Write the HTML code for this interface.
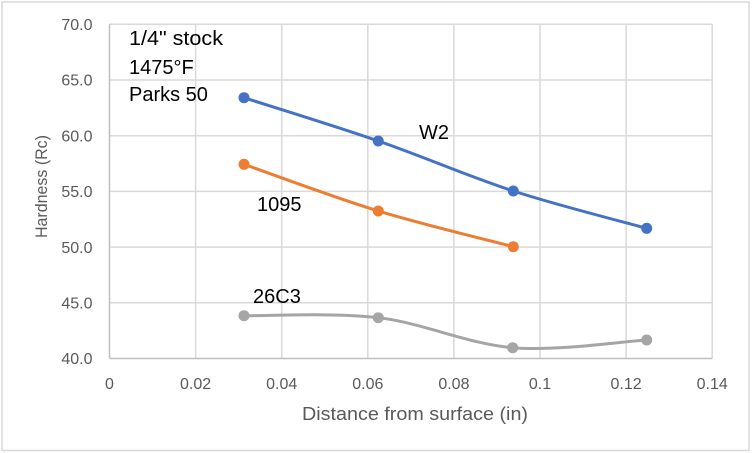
<!DOCTYPE html>
<html>
<head>
<meta charset="utf-8">
<style>
  html, body { margin: 0; padding: 0; background: #ffffff; }
  svg { display: block; }
  text { font-family: "Liberation Sans", Arial, sans-serif; }
</style>
</head>
<body>
<svg width="752" height="453" viewBox="0 0 752 453" xmlns="http://www.w3.org/2000/svg">
  <rect x="0" y="0" width="752" height="453" fill="#ffffff"/>
  <rect x="2" y="2" width="747" height="448.5" fill="none" stroke="#d9d9d9" stroke-width="1.5"/>

  <!-- horizontal gridlines -->
  <g stroke="#d9d9d9" stroke-width="1.5">
    <line x1="109.5" y1="24.3" x2="712.2" y2="24.3"/>
    <line x1="109.5" y1="80" x2="712.2" y2="80"/>
    <line x1="109.5" y1="135.7" x2="712.2" y2="135.7"/>
    <line x1="109.5" y1="191.4" x2="712.2" y2="191.4"/>
    <line x1="109.5" y1="247.1" x2="712.2" y2="247.1"/>
    <line x1="109.5" y1="302.8" x2="712.2" y2="302.8"/>
    <!-- vertical gridlines -->
    <line x1="195.6" y1="24.3" x2="195.6" y2="358.5"/>
    <line x1="281.7" y1="24.3" x2="281.7" y2="358.5"/>
    <line x1="367.8" y1="24.3" x2="367.8" y2="358.5"/>
    <line x1="453.9" y1="24.3" x2="453.9" y2="358.5"/>
    <line x1="540" y1="24.3" x2="540" y2="358.5"/>
    <line x1="626.1" y1="24.3" x2="626.1" y2="358.5"/>
    <line x1="712.2" y1="24.3" x2="712.2" y2="358.5"/>
  </g>
  <!-- axes -->
  <g stroke="#bfbfbf" stroke-width="1.5">
    <line x1="109.5" y1="24.3" x2="109.5" y2="358.5"/>
    <line x1="109.5" y1="358.5" x2="712.2" y2="358.5"/>
  </g>

  <!-- y tick labels -->
  <g font-size="16" fill="#595959" text-anchor="end">
    <text x="92.5" y="30">70.0</text>
    <text x="92.5" y="85.7">65.0</text>
    <text x="92.5" y="141.4">60.0</text>
    <text x="92.5" y="197.1">55.0</text>
    <text x="92.5" y="252.8">50.0</text>
    <text x="92.5" y="308.5">45.0</text>
    <text x="92.5" y="364.2">40.0</text>
  </g>
  <!-- x tick labels -->
  <g font-size="16" fill="#595959" text-anchor="middle">
    <text x="109.5" y="389">0</text>
    <text x="195.6" y="389">0.02</text>
    <text x="281.7" y="389">0.04</text>
    <text x="367.8" y="389">0.06</text>
    <text x="453.9" y="389">0.08</text>
    <text x="540" y="389">0.1</text>
    <text x="626.1" y="389">0.12</text>
    <text x="712.2" y="389">0.14</text>
  </g>

  <!-- axis titles -->
  <text x="302" y="420" font-size="18" fill="#595959" textLength="226" lengthAdjust="spacingAndGlyphs">Distance from surface (in)</text>
  <text transform="translate(47,238) rotate(-90)" font-size="17" fill="#595959" textLength="103" lengthAdjust="spacingAndGlyphs">Hardness (Rc)</text>

  <!-- series: W2 -->
  <path d="M244,97.7 C266.4,104.9 333.4,125.45 378.3,141 C423.2,156.55 468.6,176.45 513.3,191 C558,205.55 624.5,222.1 646.7,228.3"
        fill="none" stroke="#4472C4" stroke-width="3" stroke-linecap="round"/>
  <g fill="#4472C4">
    <circle cx="244" cy="97.7" r="5.5"/>
    <circle cx="378.3" cy="141" r="5.5"/>
    <circle cx="513.3" cy="191" r="5.5"/>
    <circle cx="646.7" cy="228.3" r="5.5"/>
  </g>

  <!-- series: 1095 -->
  <path d="M244,164.3 C266.4,172.1 333.4,197.3 378.3,211 C423.2,224.7 490.8,240.75 513.3,246.7"
        fill="none" stroke="#ED7D31" stroke-width="3" stroke-linecap="round"/>
  <g fill="#ED7D31">
    <circle cx="244" cy="164.3" r="5.5"/>
    <circle cx="378.3" cy="211" r="5.5"/>
    <circle cx="513.3" cy="246.7" r="5.5"/>
  </g>

  <!-- series: 26C3 -->
  <path d="M244,315.7 C266.4,316 333.5,312.4 378.3,317.7 C423.1,323 468,344 512.7,347.7 C557.4,351.4 624.4,341.3 646.7,340"
        fill="none" stroke="#A5A5A5" stroke-width="3" stroke-linecap="round"/>
  <g fill="#A5A5A5">
    <circle cx="244" cy="315.7" r="5.5"/>
    <circle cx="378.3" cy="317.7" r="5.5"/>
    <circle cx="512.7" cy="347.7" r="5.5"/>
    <circle cx="646.7" cy="340" r="5.5"/>
  </g>

  <!-- annotations -->
  <g font-size="20" fill="#000000">
    <text x="129" y="45" textLength="94" lengthAdjust="spacingAndGlyphs">1/4" stock</text>
    <text x="129" y="74">1475°F</text>
    <text x="129" y="101">Parks 50</text>
    <text x="419" y="139">W2</text>
    <text x="257" y="211">1095</text>
    <text x="253" y="303">26C3</text>
  </g>
</svg>
</body>
</html>
